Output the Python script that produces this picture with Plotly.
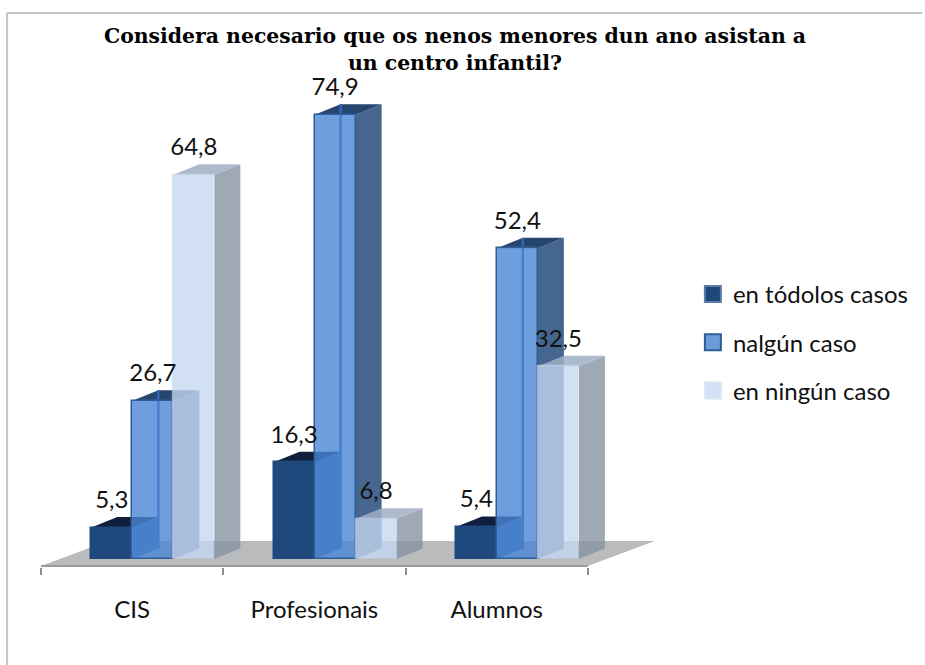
import plotly.graph_objects as go

categories = ["CIS", "Profesionais", "Alumnos"]
series_names = ["en tódolos casos", "nalgún caso", "en ningún caso"]
todolos = [5.3, 16.3, 5.4]
nalgun = [26.7, 74.9, 52.4]
ningun = [64.8, 6.8, 32.5]
all_series = [todolos, nalgun, ningun]

front_fill = ["#1f497d", "rgba(74,134,212,0.8)", "rgba(197,215,241,0.78)"]
front_line = ["#1f497d", "#2f5d96", "rgba(197,215,241,0.3)"]
side_fill = ["#3f6aa0", "#44668f", "rgba(135,148,162,0.8)"]
top_fill = ["#0f1f3d", "#27466f", "rgba(160,175,195,0.85)"]
legend_fill = ["#1f497d", "#6a9cdc", "#d2e1f5"]
legend_line = ["#5a7ca8", "#2f5d96", "#dbe6f5"]

BAR_W = 0.225
GROUP_START = 0.276
DX = 0.1426
DY = 1.77
FLOOR_DX = 0.366
FLOOR_FRONT = -1.18
FLOOR_BACK = 3.04
AXIS_Y = -1.35
LABEL_GAP = 4.3
FONT = "Lato, 'Open Sans', sans-serif"
TEXT_SIZE = 24


def poly(xs, ys, fill):
    path = "M" + " L".join(f"{x},{y}" for x, y in zip(xs, ys)) + " Z"
    return dict(type="path", path=path, xref="x", yref="y", fillcolor=fill,
                line=dict(width=0), layer="below")


shapes = [
    poly([0, 3, 3 + FLOOR_DX, FLOOR_DX],
         [FLOOR_FRONT, FLOOR_FRONT, FLOOR_BACK, FLOOR_BACK], "#b9bbbd"),
    dict(type="line", xref="x", yref="y", x0=0, x1=3, y0=AXIS_Y + 0.15, y1=AXIS_Y + 0.15,
         line=dict(color="#9a9a9a", width=2), layer="below"),
]

for s, vals in enumerate(all_series):
    for c, v in enumerate(vals):
        x0 = c + GROUP_START + s * BAR_W
        x1 = x0 + BAR_W
        shapes.append(poly([x1, x1 + DX, x1 + DX, x1], [0, DY, v + DY, v], side_fill[s]))
        shapes.append(poly([x0, x1, x1 + DX, x0 + DX], [v, v, v + DY, v + DY], top_fill[s]))
        if s == 1:
            shapes.append(dict(type="line", xref="x", yref="y", x0=x0 + DX, x1=x0 + DX,
                               y0=DY, y1=v + DY, line=dict(color="#2f66b5", width=2.5),
                               layer="below"))

fig = go.Figure()
for s, vals in enumerate(all_series):
    fig.add_trace(go.Bar(
        x=[c + GROUP_START + (s + 0.5) * BAR_W for c in range(len(categories))],
        y=vals, width=BAR_W, showlegend=False,
        marker=dict(color=front_fill[s], line=dict(color=front_line[s], width=1.5)),
        hoverinfo="skip",
    ))
for s, vals in enumerate(all_series):
    fig.add_trace(go.Scatter(
        x=[c + GROUP_START + (s + 0.5) * BAR_W for c in range(len(categories))],
        y=[v + LABEL_GAP for v in vals],
        mode="text", text=[f"{v:.1f}".replace(".", ",") for v in vals],
        textfont=dict(family=FONT, size=TEXT_SIZE, color="#111111"),
        showlegend=False, cliponaxis=False, hoverinfo="skip",
    ))
    fig.add_trace(go.Scatter(
        x=[None], y=[None], mode="markers", name=series_names[s], legendgroup=series_names[s],
        marker=dict(symbol="square", size=16, color=legend_fill[s],
                    line=dict(color=legend_line[s], width=2)),
    ))

fig.update_layout(
    width=925, height=665, autosize=False,
    margin=dict(l=41, r=265, t=85, b=98),
    paper_bgcolor="white", plot_bgcolor="rgba(0,0,0,0)",
    barmode="overlay", bargap=0,
    font=dict(family=FONT, color="#111111"),
    title=dict(
        text="Considera necesario que os nenos menores dun ano asistan a<br>un centro infantil?",
        x=455 / 925, xanchor="center", y=1 - 43 / 665, yanchor="top",
        font=dict(family="'DejaVu Serif', serif", size=20.4, color="#000000", weight="bold"),
        pad=dict(t=0),
        yref="container", automargin=False,
    ),
    xaxis=dict(
        range=[0, 3.385], showgrid=False, zeroline=False, showline=False,
        tickmode="array", tickvals=[0.5, 1.5, 2.5], ticktext=categories,
        ticks="", ticklabelstandoff=26,
        tickfont=dict(family=FONT, size=TEXT_SIZE, color="#111111"),
        minor=dict(tickmode="array", tickvals=[0, 1, 2, 3], ticks="outside", ticklen=7,
                   tickwidth=2, tickcolor="#8f8f8f", showgrid=False),
    ),
    yaxis=dict(range=[AXIS_Y, 79.93], visible=False),
    legend=dict(
        x=(695 - 41) / 619, xanchor="left", y=(567 - 272) / 482, yanchor="top",
        font=dict(family=FONT, size=TEXT_SIZE, color="#111111"),
        tracegroupgap=14, bgcolor="rgba(0,0,0,0)", traceorder="grouped",
    ),
    shapes=shapes + [
        dict(type="line", xref="paper", yref="paper",
             x0=-34 / 619, x1=-34 / 619, y0=-1, y1=554 / 482,
             line=dict(color="#c4c4c4", width=2)),
        dict(type="line", xref="paper", yref="paper",
             x0=-34 / 619, x1=884 / 619, y0=554 / 482, y1=554 / 482,
             line=dict(color="#c4c4c4", width=2)),
    ],
)
fig.write_html("out.html", config=dict(displayModeBar=False),
               post_script="document.body.style.margin='0';")
